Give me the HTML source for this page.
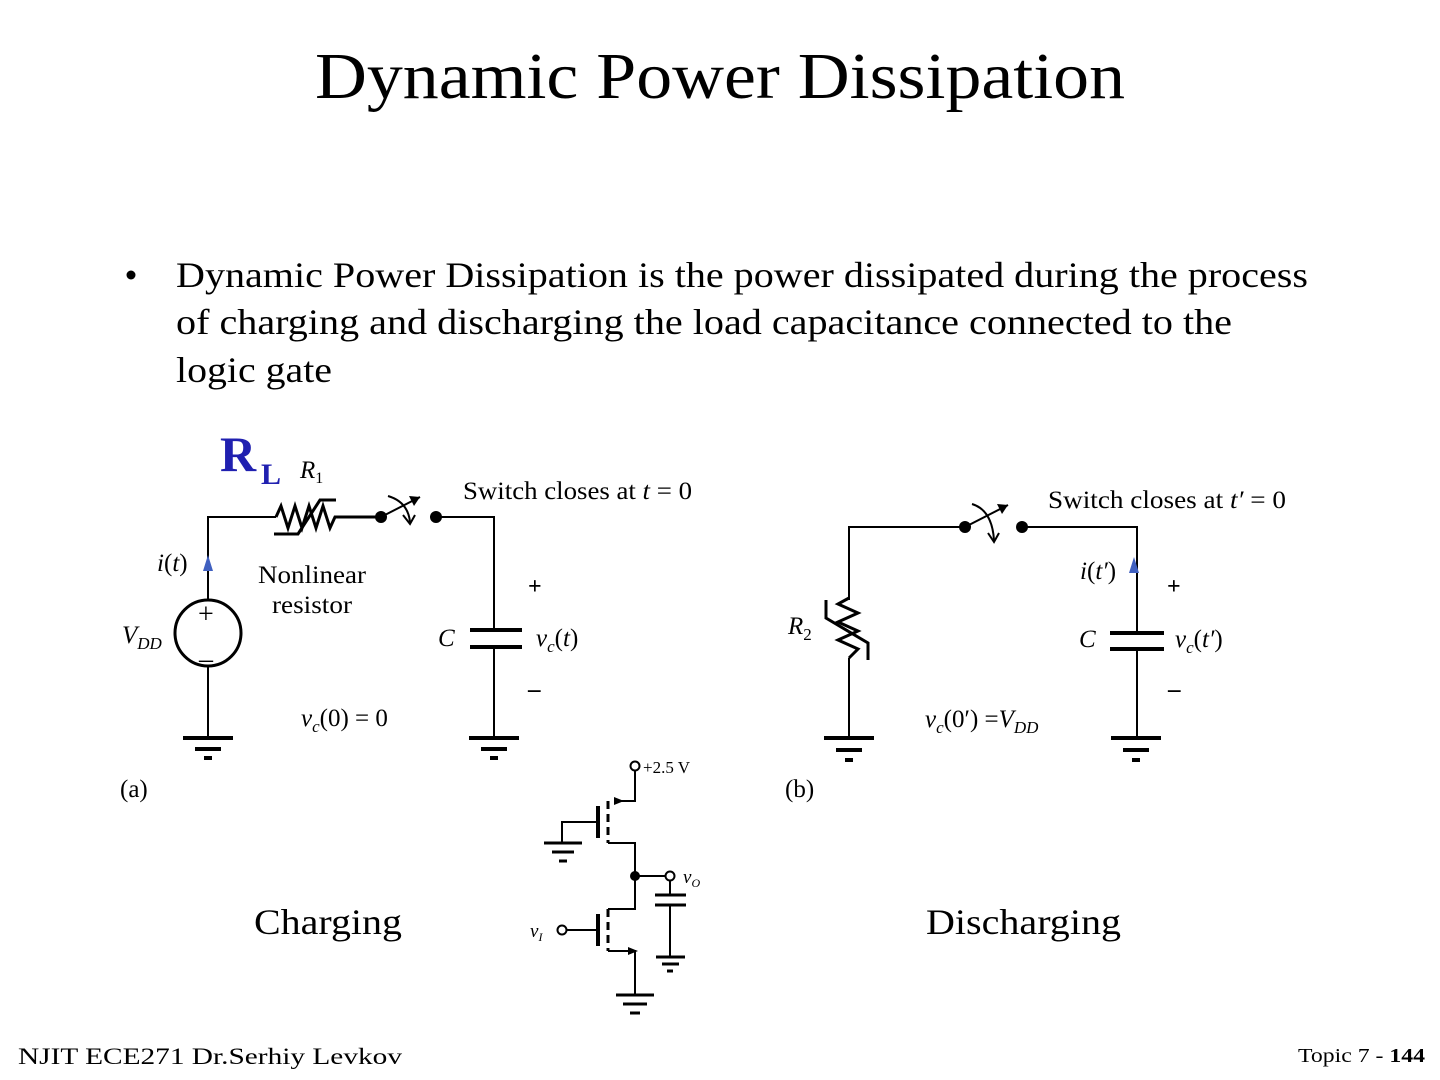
<!DOCTYPE html>
<html><head><meta charset="utf-8"><style>
body{margin:0;background:#fff;}
svg{display:block;font-family:"Liberation Serif",serif;}
</style></head><body>
<svg width="1440" height="1080" viewBox="0 0 1440 1080" xmlns="http://www.w3.org/2000/svg">
<rect width="1440" height="1080" fill="#fff"/>
<text x="315" y="98" font-size="66" textLength="810" lengthAdjust="spacingAndGlyphs">Dynamic Power Dissipation</text>
<circle cx="131" cy="275" r="4.5" fill="#000"/>
<g font-size="36">
<text x="176" y="287" textLength="1132" lengthAdjust="spacingAndGlyphs">Dynamic Power Dissipation is the power dissipated during the process</text>
<text x="176" y="334" textLength="1056" lengthAdjust="spacingAndGlyphs">of charging and discharging the load capacitance connected to the</text>
<text x="176" y="382" textLength="156" lengthAdjust="spacingAndGlyphs">logic gate</text>
</g>
<text x="220" y="471" font-size="50" font-weight="bold" fill="#2020b0">R</text>
<text x="261" y="484" font-size="30" font-weight="bold" fill="#2020b0">L</text>

<g stroke="#000" stroke-width="2" fill="none">
<!-- circuit a -->
<polyline points="208,600 208,517 276,517"/>
<polyline points="276,517 281,506 288,528 295,506 302,528 309,506 316,528 323,506 330,528 335,517 381,517" stroke-width="3"/>
<polyline points="274,534 298,534 320,500 336,500" stroke-width="3"/>
<polyline points="436,517 494,517 494,630"/>
<line x1="381" y1="517" x2="420" y2="497"/>
<path d="M388,496 Q408,502 410,522"/>
<polyline points="403,515 410,524 415,515"/>
<line x1="470" y1="630" x2="522" y2="630" stroke-width="4"/>
<line x1="470" y1="647" x2="522" y2="647" stroke-width="4"/>
<line x1="494" y1="647" x2="494" y2="738"/>
<circle cx="208" cy="633" r="33" stroke-width="3"/>
<line x1="208" y1="666" x2="208" y2="738"/>
<g stroke-width="4">
<line x1="183" y1="738" x2="233" y2="738"/><line x1="195" y1="749" x2="221" y2="749"/><line x1="204" y1="758" x2="212" y2="758"/>
<line x1="469" y1="738" x2="519" y2="738"/><line x1="481" y1="749" x2="507" y2="749"/><line x1="490" y1="758" x2="498" y2="758"/>
<line x1="824" y1="738" x2="874" y2="738"/><line x1="836" y1="750" x2="862" y2="750"/><line x1="845" y1="760" x2="853" y2="760"/>
<line x1="1111" y1="738" x2="1161" y2="738"/><line x1="1123" y1="750" x2="1149" y2="750"/><line x1="1132" y1="760" x2="1140" y2="760"/>
</g>
<!-- circuit b -->
<polyline points="849,600 849,527 965,527"/>
<polyline points="1022,527 1137,527 1137,633"/>
<polyline points="849,598 838,604 858,613 838,622 858,631 838,640 858,649 849,658" stroke-width="3"/>
<line x1="849" y1="658" x2="849" y2="738"/>
<polyline points="826,600 826,618 868,643 868,660" stroke-width="3"/>
<line x1="965" y1="527" x2="1008" y2="505"/>
<path d="M972,504 Q992,510 994,540"/>
<polyline points="988,533 994,542 999,533"/>
<line x1="1110" y1="633" x2="1164" y2="633" stroke-width="4"/>
<line x1="1110" y1="649" x2="1164" y2="649" stroke-width="4"/>
<line x1="1137" y1="649" x2="1137" y2="738"/>
<!-- cmos -->
<polyline points="635,770 635,801 614,801"/>
<line x1="608" y1="801" x2="608" y2="843" stroke-dasharray="8,5" stroke-width="3"/>
<line x1="598" y1="806" x2="598" y2="838" stroke-width="4"/>
<polyline points="598,822 562,822 562,842"/>
<line x1="544" y1="843" x2="582" y2="843" stroke-width="3"/><line x1="552" y1="852" x2="574" y2="852" stroke-width="3"/><line x1="559" y1="861" x2="567" y2="861" stroke-width="3"/>
<polyline points="608,843 635,843 635,909 608,909"/>
<line x1="635" y1="876" x2="666" y2="876"/>
<line x1="670" y1="880" x2="670" y2="895"/>
<line x1="655" y1="895" x2="686" y2="895" stroke-width="3"/>
<line x1="655" y1="905" x2="686" y2="905" stroke-width="3"/>
<line x1="670" y1="905" x2="670" y2="957"/>
<line x1="656" y1="957" x2="685" y2="957" stroke-width="3"/><line x1="662" y1="964" x2="679" y2="964" stroke-width="3"/><line x1="667" y1="971" x2="673" y2="971" stroke-width="3"/>
<line x1="608" y1="909" x2="608" y2="951" stroke-dasharray="8,5" stroke-width="3"/>
<line x1="598" y1="914" x2="598" y2="946" stroke-width="4"/>
<line x1="567" y1="930" x2="598" y2="930"/>
<polyline points="608,951 635,951 635,995"/>
<line x1="616" y1="995" x2="654" y2="995" stroke-width="3"/><line x1="623" y1="1004" x2="647" y2="1004" stroke-width="3"/><line x1="630" y1="1013" x2="640" y2="1013" stroke-width="3"/>
<circle cx="635" cy="766" r="4.5"/>
<circle cx="670" cy="876" r="4.5"/>
<circle cx="562" cy="930" r="4.5"/>
</g>
<g fill="#000">
<circle cx="381" cy="517" r="6"/><circle cx="436" cy="517" r="6"/>
<circle cx="965" cy="527" r="6"/><circle cx="1022" cy="527" r="6"/>
<circle cx="635" cy="876" r="5"/>
<polygon points="420,497 409,496 414,506"/>
<polygon points="1008,505 997,504 1002,514"/>
<polygon points="614,797 624,801 614,805"/>
<polygon points="628,947 638,951 628,955"/>
</g>
<polygon points="208,555 203,571 213,571" fill="#4060c0"/>
<polygon points="1134,557 1129,573 1139,573" fill="#4060c0"/>

<g font-size="25">
<text x="300" y="478" font-style="italic">R<tspan font-size="16" font-style="normal" dy="5">1</tspan></text>
<text x="463" y="499" textLength="229" lengthAdjust="spacingAndGlyphs">Switch closes at <tspan font-style="italic">t</tspan> = 0</text>
<text x="157" y="571" font-style="italic">i</text><text x="164" y="571">(<tspan font-style="italic">t</tspan>)</text>
<text x="258" y="583" textLength="108" lengthAdjust="spacingAndGlyphs">Nonlinear</text>
<text x="272" y="613" textLength="80" lengthAdjust="spacingAndGlyphs">resistor</text>
<text x="528" y="594" font-weight="bold" font-size="24">+</text>
<text x="198" y="623" font-size="28">+</text>
<text x="199" y="668" font-size="28">–</text>
<text x="122" y="643" font-style="italic">V<tspan font-size="17" dy="6">DD</tspan></text>
<text x="438" y="646" font-style="italic">C</text>
<text x="536" y="646" font-style="italic">v<tspan font-size="17" dy="6">c</tspan><tspan dy="-6" font-style="normal">(</tspan>t<tspan font-style="normal">)</tspan></text>
<text x="528" y="697" font-weight="bold">–</text>
<text x="301" y="726" font-style="italic">v<tspan font-size="17" dy="6">c</tspan><tspan dy="-6" font-style="normal">(0) = 0</tspan></text>
<text x="120" y="797">(a)</text>
<text x="1048" y="508" textLength="238" lengthAdjust="spacingAndGlyphs">Switch closes at <tspan font-style="italic">t′</tspan> = 0</text>
<text x="1080" y="579" font-style="italic">i</text><text x="1087" y="579">(<tspan font-style="italic">t′</tspan>)</text>
<text x="1167" y="594" font-weight="bold" font-size="24">+</text>
<text x="788" y="634" font-style="italic">R<tspan font-size="17" font-style="normal" dy="6">2</tspan></text>
<text x="1079" y="647" font-style="italic">C</text>
<text x="1175" y="647" font-style="italic">v<tspan font-size="17" dy="6">c</tspan><tspan dy="-6" font-style="normal">(</tspan>t′<tspan font-style="normal">)</tspan></text>
<text x="1168" y="697" font-weight="bold">–</text>
<text x="925" y="727" font-style="italic">v<tspan font-size="17" dy="6">c</tspan><tspan dy="-6" font-style="normal">(0′) =</tspan>V<tspan font-size="17" dy="6">DD</tspan></text>
<text x="785" y="797">(b)</text>
<text x="643" y="773" font-size="17">+2.5 V</text>
<text x="683" y="883" font-size="19" font-style="italic">v<tspan font-size="12" dy="4">O</tspan></text>
<text x="530" y="937" font-size="19" font-style="italic">v<tspan font-size="12" dy="4">I</tspan></text>
</g>
<text x="254" y="934" font-size="36" textLength="148" lengthAdjust="spacingAndGlyphs">Charging</text>
<text x="926" y="934" font-size="36" textLength="195" lengthAdjust="spacingAndGlyphs">Discharging</text>
<text x="18" y="1064" font-size="23" textLength="384" lengthAdjust="spacingAndGlyphs">NJIT  ECE271   Dr.Serhiy Levkov</text>
<text x="1298" y="1062" font-size="20" textLength="127" lengthAdjust="spacingAndGlyphs">Topic 7 - <tspan font-weight="bold">144</tspan></text>
</svg>
</body></html>
